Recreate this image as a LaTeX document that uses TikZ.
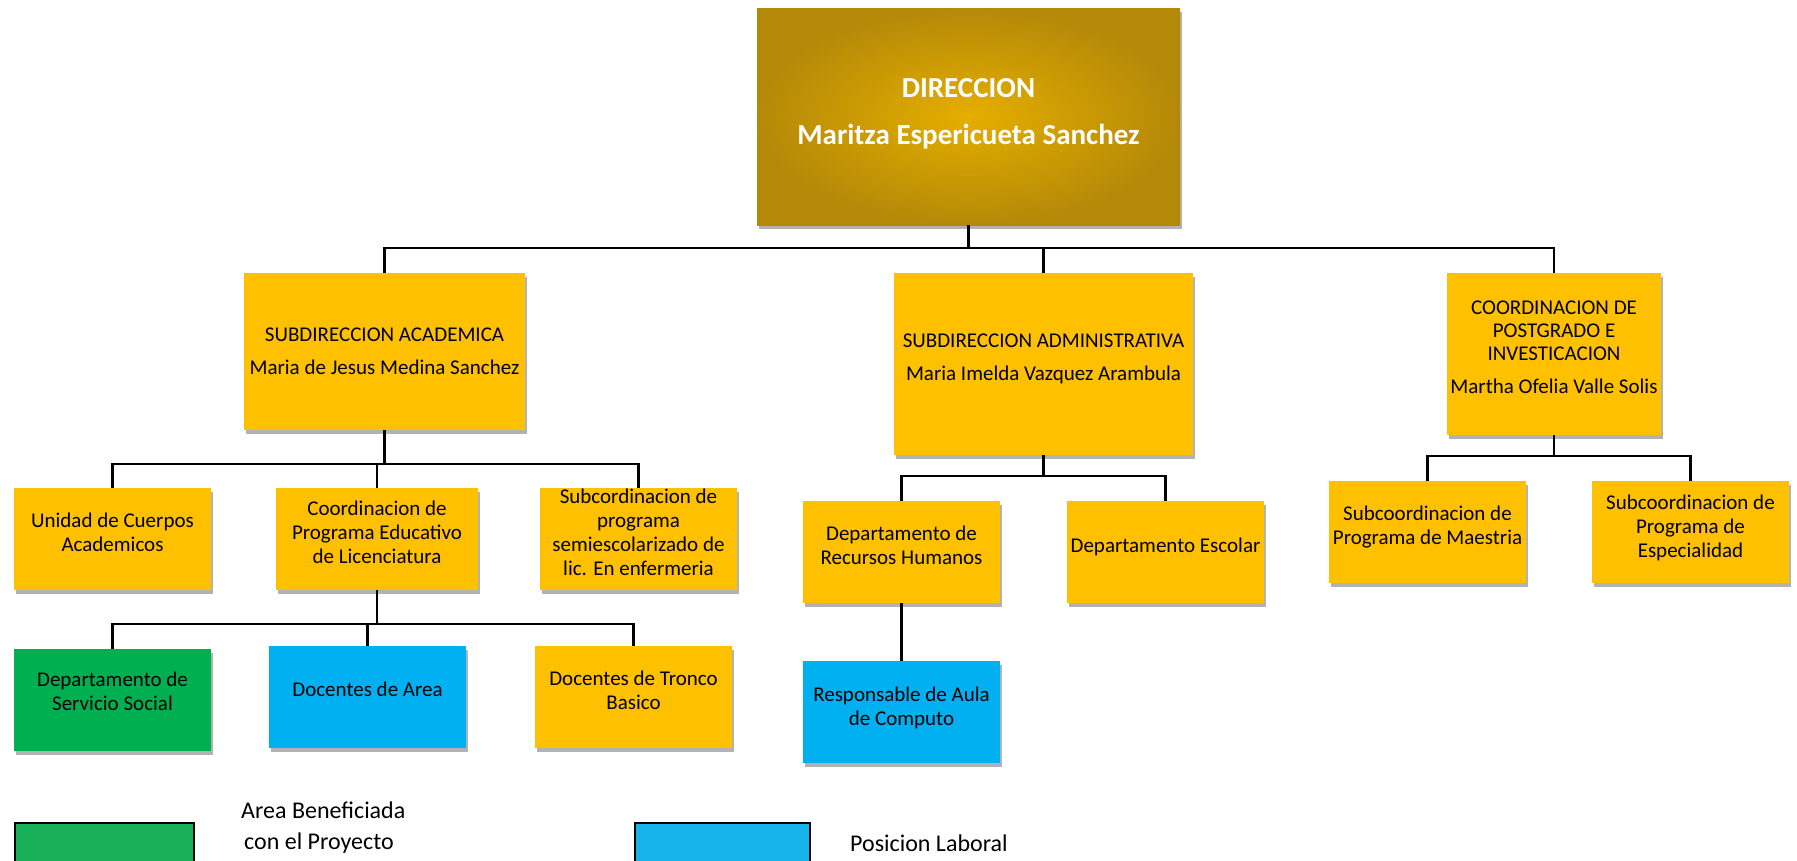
\documentclass[tikz,border=0pt]{standalone}
\usepackage{fontspec}
\setmainfont{Carlito}
\usetikzlibrary{shadows}
\definecolor{orgbox}{HTML}{FFC000}
\definecolor{bluebox}{HTML}{00B0F0}
\definecolor{greenbox}{HTML}{00B050}
\definecolor{goldin}{HTML}{E5AE00}
\definecolor{goldout}{HTML}{B48908}
\definecolor{leggreen}{HTML}{18B15A}
\definecolor{legblue}{HTML}{16B4EA}
\tikzset{
  unit/.style={inner sep=0pt, outer sep=0pt, align=center,
    font=\fontsize{21}{24}\selectfont,
    drop shadow={shadow xshift=2pt, shadow yshift=-4pt, fill=black, opacity=0.3}},
  orgunit/.style={unit, fill=orgbox},
  blueunit/.style={unit, fill=bluebox},
  greenunit/.style={unit, fill=greenbox},
  link/.style={draw=black, line width=2.4pt},
  legbox/.style={draw=black, line width=1.6pt},
  legtext/.style={font=\fontsize{24}{28}\selectfont, inner sep=0pt, anchor=west}
}
\begin{document}
\begin{tikzpicture}[x=1pt,y=-1pt]
\useasboundingbox (0,0) rectangle (1797,860);
% top
\node[unit, shading=radial, inner color=goldin, outer color=goldout,
  minimum width=423pt, minimum height=217pt, text=white,
  font=\bfseries\fontsize{29}{35}\selectfont] (dir) at (968.5,116.5)
  {DIRECCION\\[12pt]Maritza Espericueta Sanchez\\[-24pt]};
% second level
\node[orgunit, minimum width=281pt, minimum height=157pt] (sa) at (384.5,351.5)
  {SUBDIRECCION ACADEMICA\\[9pt]Maria de Jesus Medina Sanchez};
\node[orgunit, minimum width=299pt, minimum height=182pt] (sad) at (1043.5,364)
  {SUBDIRECCION ADMINISTRATIVA\\[9pt]Maria Imelda Vazquez Arambula\\[-10pt]};
\node[orgunit, minimum width=214pt, minimum height=162pt] (cp) at (1554,354)
  {COORDINACION DE\\[-1pt]POSTGRADO E\\[-1pt]INVESTICACION\\[9pt]Martha Ofelia Valle Solis\\[-11pt]};
% third level
\node[orgunit, minimum width=197pt, minimum height=102pt] (u1) at (112.5,539)
  {Unidad de Cuerpos\\Academicos\\[-10pt]};
\node[orgunit, minimum width=202pt, minimum height=102pt] (u2) at (377,539)
  {Coordinacion de\\Programa Educativo\\de Licenciatura\\[-11pt]};
\node[orgunit, minimum width=197pt, minimum height=102pt] (u3) at (638.5,539)
  {Subcordinacion de\\programa\\semiescolarizado de\\lic. En enfermeria\\[-11pt]};
\node[orgunit, minimum width=197pt, minimum height=102pt] (r1) at (901.5,552)
  {Departamento de\\Recursos Humanos\\[-10pt]};
\node[orgunit, minimum width=197pt, minimum height=102pt] (r2) at (1165.5,552)
  {Departamento Escolar\\[-11pt]};
\node[orgunit, minimum width=197pt, minimum height=102pt] (m1) at (1427.5,532)
  {Subcoordinacion de\\Programa de Maestria\\[-10pt]};
\node[orgunit, minimum width=197pt, minimum height=102pt] (m2) at (1690.5,532)
  {Subcoordinacion de\\Programa de\\Especialidad\\[-13pt]};
% fourth level
\node[greenunit, minimum width=197pt, minimum height=102pt] (d1) at (112.5,700)
  {Departamento de\\Servicio Social\\[-6pt]};
\node[blueunit, minimum width=197pt, minimum height=102pt] (d2) at (367.5,697)
  {Docentes de Area\\[-9pt]};
\node[orgunit, minimum width=197pt, minimum height=102pt] (d3) at (633.5,697)
  {Docentes de Tronco\\Basico\\[-10pt]};
\node[blueunit, minimum width=197pt, minimum height=102pt] (r3) at (901.5,712)
  {Responsable de Aula\\de Computo\\[-13pt]};
% bus levels
\coordinate (b1) at (0,248);
\coordinate (b2) at (0,464);
\coordinate (b3) at (0,624);
\coordinate (b4) at (0,476);
\coordinate (b5) at (0,456);
% connectors
\draw[link] (dir.south) -- (dir.south |- b1);
\draw[link] (sa.north) |- (dir.south |- b1) -| (cp.north);
\draw[link] (sad.north) -- (sad.north |- b1);
\draw[link] (sa.south) -- (sa.south |- b2);
\draw[link] (u1.north) |- (sa.south |- b2) -| (u3.north);
\draw[link] (u2.north) -- (u2.north |- b2);
\draw[link] (u2.south) -- (u2.south |- b3);
\draw[link] (d1.north) |- (u2.south |- b3) -| (d3.north);
\draw[link] (d2.north) -- (d2.north |- b3);
\draw[link] (r1.north) |- (sad.south |- b4) -| (r2.north);
\draw[link] (sad.south) -- (sad.south |- b4);
\draw[link] (m1.north) |- (cp.south |- b5) -| (m2.north);
\draw[link] (cp.south) -- (cp.south |- b5);
\draw[link] (r1.south) -- (r3.north);
% legend
\node[legbox, fill=leggreen, minimum width=179pt, minimum height=40pt, inner sep=0pt, anchor=north west] (lg) at (14,822) {};
\node[legbox, fill=legblue, minimum width=175pt, minimum height=40pt, inner sep=0pt, anchor=north west] (lb) at (634,822) {};
\node[legtext] (lgt1) at (241,810) {Area Beneficiada};
\node[legtext] (lgt2) at (244,843) {con el Proyecto};
\node[legtext] (lbt) at (850,843) {Posicion Laboral};
\end{tikzpicture}
\end{document}
